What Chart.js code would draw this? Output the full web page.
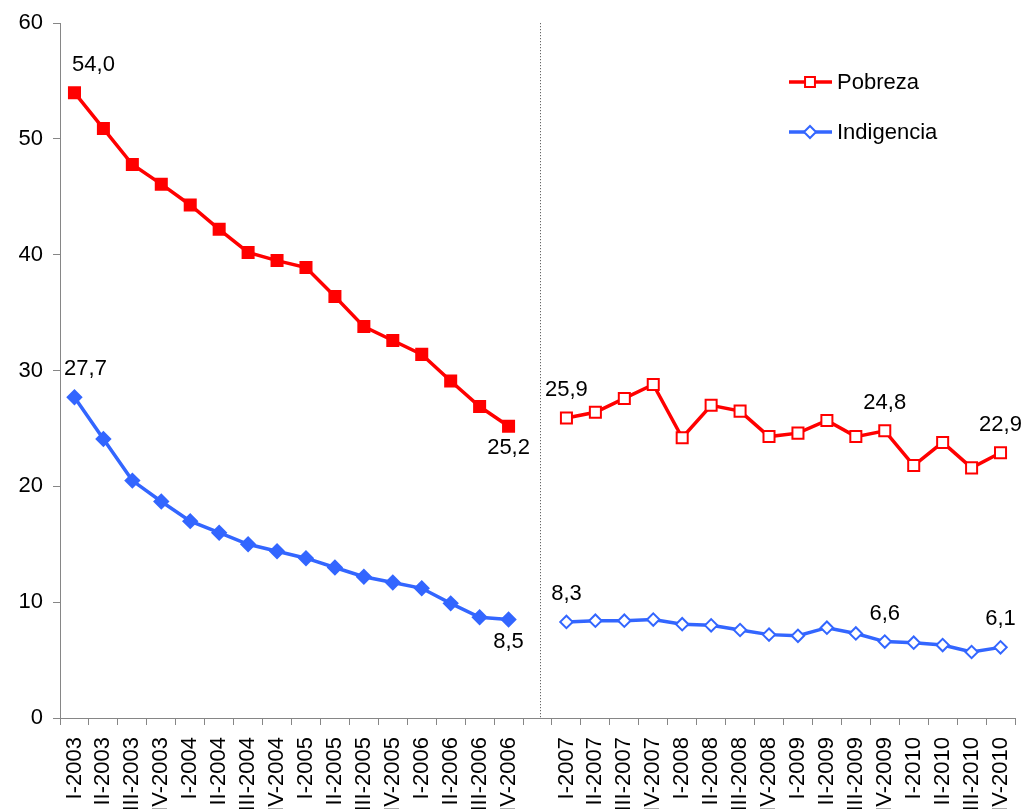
<!DOCTYPE html>
<html>
<head>
<meta charset="utf-8">
<script src="https://cdn.jsdelivr.net/npm/chart.js@4.4.0/dist/chart.umd.min.js"></script>
<style>
html, body { margin: 0; padding: 0; background: #fff; overflow: hidden; }
#grafico { display: block; }
</style>
</head>
<body>
<canvas id="grafico" width="1025" height="830"></canvas>
<script>
var trimestres = [
  "I-2003", "II-2003", "III-2003", "IV-2003",
  "I-2004", "II-2004", "III-2004", "IV-2004",
  "I-2005", "II-2005", "III-2005", "IV-2005",
  "I-2006", "II-2006", "III-2006", "IV-2006",
  "",
  "I-2007", "II-2007", "III-2007", "IV-2007",
  "I-2008", "II-2008", "III-2008", "IV-2008",
  "I-2009", "II-2009", "III-2009", "IV-2009",
  "I-2010", "II-2010", "III-2010", "IV-2010"
];
var pobreza = [
  54.0, 50.9, 47.8, 46.1, 44.3, 42.2, 40.2, 39.5,
  38.9, 36.4, 33.8, 32.6, 31.4, 29.1, 26.9, 25.2,
  null,
  25.9, 26.4, 27.6, 28.8, 24.2, 27.0, 26.5, 24.3,
  24.6, 25.7, 24.3, 24.8, 21.8, 23.8, 21.6, 22.9
];
var indigencia = [
  27.7, 24.1, 20.5, 18.7, 17.0, 16.0, 15.0, 14.4,
  13.8, 13.0, 12.2, 11.7, 11.2, 9.9, 8.7, 8.5,
  null,
  8.3, 8.4, 8.4, 8.5, 8.1, 8.0, 7.6, 7.2,
  7.1, 7.8, 7.3, 6.6, 6.5, 6.3, 5.7, 6.1
];
var ticksY = [0, 10, 20, 30, 40, 50, 60];
var etiquetados = [0, 15, 17, 28, 32]; // puntos con valor escrito

var corte = trimestres.indexOf(""); // hueco entre las dos series de la EPH
var ROJO = "#FF0000";
var AZUL = "#3366FF";
var FUENTE = 'Arial, "Liberation Sans", sans-serif';

// valores escritos sobre/bajo algunos puntos
var etiquetas = {
  id: "etiquetas",
  afterDatasetsDraw: function(chart) {
    var ctx = chart.ctx;
    ctx.save();
    ctx.font = "22px " + FUENTE;
    ctx.fillStyle = "#000";
    ctx.textAlign = "center";
    ctx.textBaseline = "middle";
    chart.data.datasets.forEach(function(ds, d) {
      var meta = chart.getDatasetMeta(d);
      etiquetados.forEach(function(i) {
        var p = meta.data[i];
        var dx = 0, dy = -28;
        if (i === 0) dx = d === 0 ? 19 : 11;
        if (i === corte - 1) dy = 22;
        ctx.fillText(ds.data[i].toFixed(1).replace(".", ","), p.x + dx, p.y + dy);
      });
    });
    ctx.restore();
  }
};

// linea punteada que separa los dos periodos
var separador = {
  id: "separador",
  beforeDatasetsDraw: function(chart) {
    var ctx = chart.ctx, area = chart.chartArea;
    var x = Math.round(chart.scales.x.getPixelForValue(corte)) + 2.5;
    ctx.save();
    ctx.strokeStyle = "#444";
    ctx.lineWidth = 1;
    ctx.setLineDash([1, 2]);
    ctx.beginPath();
    ctx.moveTo(x, area.top);
    ctx.lineTo(x, area.bottom);
    ctx.stroke();
    ctx.restore();
  }
};

// leyenda dentro del area del grafico
var leyenda = {
  id: "leyenda",
  afterDraw: function(chart) {
    var ctx = chart.ctx;
    var x0 = 789, y0 = 82, paso = 50;
    ctx.save();
    chart.data.datasets.forEach(function(ds, d) {
      var y = y0 + d * paso;
      ctx.strokeStyle = ds.borderColor;
      ctx.lineWidth = 3.5;
      ctx.beginPath();
      ctx.moveTo(x0, y);
      ctx.lineTo(x0 + 43, y);
      ctx.stroke();
      ctx.fillStyle = "#fff";
      ctx.lineWidth = 2;
      Chart.helpers.drawPoint(ctx, {
        pointStyle: ds.pointStyle,
        radius: d === 0 ? 7 : 6,
        rotation: 0,
        borderWidth: 2
      }, x0 + 21, y);
      ctx.fillStyle = "#000";
      ctx.font = "22px " + FUENTE;
      ctx.textAlign = "left";
      ctx.textBaseline = "middle";
      ctx.fillText(ds.label, x0 + 48, y + 1);
    });
    ctx.restore();
  }
};

function relleno(color) {
  return function(c) { return c.dataIndex < corte ? color : "#fff"; };
}

var ctx = document.getElementById("grafico");

var grafico = new Chart(ctx, {
  type: "line",
  data: {
    labels: trimestres,
    datasets: [{
      label: "Pobreza",
      data: pobreza,
      borderColor: ROJO,
      borderWidth: 3.5,
      pointStyle: "rect",
      pointRadius: 7.8,
      pointBorderWidth: 2,
      pointBackgroundColor: relleno(ROJO),
      pointBorderColor: ROJO
    }, {
      label: "Indigencia",
      data: indigencia,
      borderColor: AZUL,
      borderWidth: 3.5,
      pointStyle: "rectRot",
      pointRadius: function(c) { return c.dataIndex < corte ? 6.8 : 6.2; },
      pointBorderWidth: 2,
      pointBackgroundColor: relleno(AZUL),
      pointBorderColor: AZUL
    }]
  },
  options: {
    responsive: false,
    animation: false,
    spanGaps: false,
    layout: { padding: { top: 22, right: 10, left: 0, bottom: 0 } },
    elements: { line: { tension: 0 } },
    plugins: {
      legend: { display: false },
      tooltip: { enabled: false }
    },
    scales: {
      x: {
        type: "category",
        offset: true,
        grid: { offset: true, drawOnChartArea: false, tickLength: 7, color: "#868686" },
        border: { color: "#868686", width: 1 },
        ticks: {
          autoSkip: false,
          minRotation: 90,
          maxRotation: 90,
          padding: 12,
          color: "#000",
          font: { family: FUENTE, size: 22 }
        },
        afterFit: function(scale) {
          scale.height = 112;
          scale.paddingLeft = 0;
          scale.paddingRight = 0;
        }
      },
      y: {
        min: ticksY[0],
        max: ticksY[ticksY.length - 1],
        grid: { drawOnChartArea: false, tickLength: 7, color: "#868686" },
        border: { color: "#868686", width: 1 },
        ticks: {
          stepSize: ticksY[1] - ticksY[0],
          padding: 10,
          color: "#000",
          font: { family: FUENTE, size: 22 }
        },
        afterFit: function(scale) { scale.width = 60; }
      }
    }
  },
  plugins: [separador, etiquetas, leyenda]
});
</script>
</body>
</html>
